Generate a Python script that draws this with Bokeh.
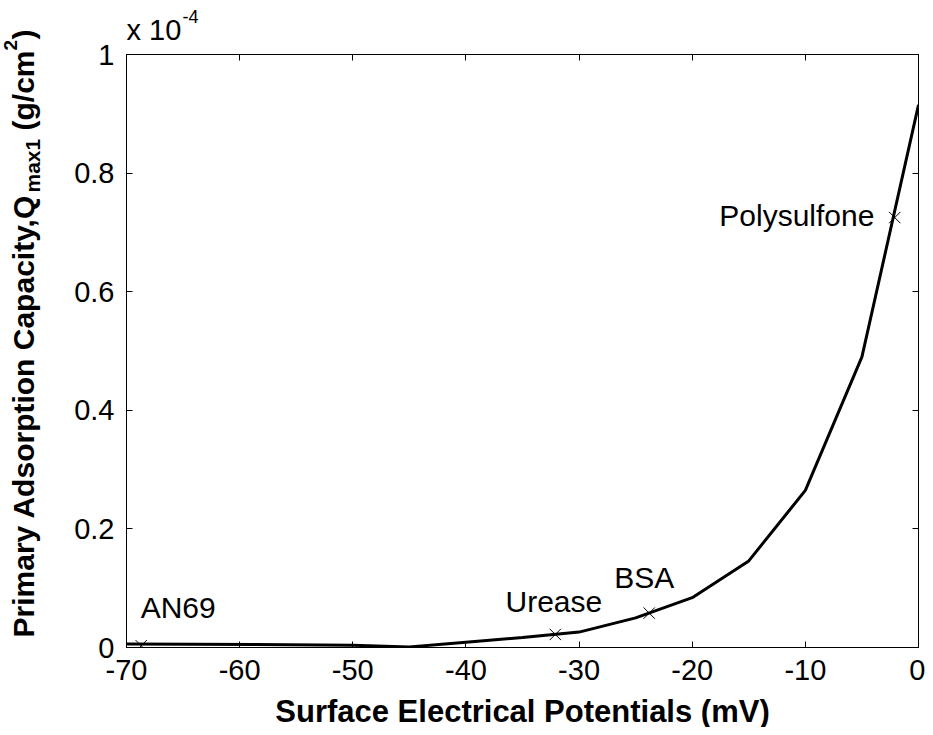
from bokeh.plotting import figure
from bokeh.models import Range1d, FixedTicker, LinearAxis, Label
from bokeh.layouts import row, column
from bokeh.core.properties import value
from bokeh.embed import file_html
from bokeh.resources import INLINE
import math

# Data (y in units of 1e-4 g/cm^2)
potential_mV = [-70, -50, -45, -40, -35, -30, -25, -20, -15, -10, -5, 0]
q_max1 = [0.006, 0.004, 0.001, 0.009, 0.017, 0.026, 0.050, 0.084, 0.146, 0.265, 0.49, 0.915]

materials = ["AN69", "Urease", "BSA", "Polysulfone"]
mat_potential = [-68.7, -32.1, -23.8, -2.1]
mat_q = [0.003, 0.022, 0.058, 0.725]

x_ticks = [-70, -60, -50, -40, -30, -20, -10, 0]
x_tick_labels = ["-70", "-60", "-50", "-40", "-30", "-20", "-10", "0"]
y_ticks = [0, 0.2, 0.4, 0.6, 0.8, 1]
y_tick_labels = ["0", "0.2", "0.4", "0.6", "0.8", "1"]

x_title = "Surface Electrical Potentials (mV)"
y_title_parts = ["Primary Adsorption Capacity,Q", "max1", "(g/cm", "2", ")"]
exponent_parts = ["x 10", "-4"]

FONT = "Liberation Sans"
TICK_SIZE = "29px"

LEFT_W = 58
TOP_H = 42
BOTTOM_H = 35
TOTAL_W = 925
TOTAL_H = 727
MAIN_W = TOTAL_W - LEFT_W
MAIN_H = TOTAL_H - TOP_H - BOTTOM_H
B_LEFT, B_RIGHT = 68, 7


def strip(width, height, xr, yr, bl=0, br=0):
    f = figure(width=width, height=height, output_backend="svg", toolbar_location=None,
               title=None, x_range=xr, y_range=yr,
               x_axis_location=None, y_axis_location=None,
               min_border_left=bl, min_border_right=br, min_border_top=0, min_border_bottom=0,
               background_fill_color="white", border_fill_color="white")
    f.grid.visible = False
    f.outline_line_color = None
    return f


# ---------------- main plot ----------------
p = figure(width=MAIN_W, height=MAIN_H, output_backend="svg", toolbar_location=None,
           x_range=Range1d(-70, 0), y_range=Range1d(0, 1),
           min_border_left=B_LEFT, min_border_right=B_RIGHT, min_border_top=12, min_border_bottom=45,
           background_fill_color="white", border_fill_color="white")
p.grid.visible = False
p.outline_line_color = "black"
p.outline_line_width = 1

for ax in (p.xaxis[0], p.yaxis[0]):
    ax.major_tick_in = 6
    ax.major_tick_out = 0
    ax.minor_tick_line_color = None
    ax.axis_line_color = "black"
    ax.major_tick_line_color = "black"
    ax.major_label_text_font = FONT
    ax.major_label_text_font_size = TICK_SIZE
    ax.major_label_text_color = "black"
    ax.major_label_standoff = 12

p.xaxis[0].ticker = FixedTicker(ticks=x_ticks)
p.xaxis[0].major_label_overrides = {t: s for t, s in zip(x_ticks, x_tick_labels)}
p.yaxis[0].ticker = FixedTicker(ticks=y_ticks)
p.yaxis[0].major_label_overrides = {t: s for t, s in zip(y_ticks, y_tick_labels)}

for loc, ticks in (("above", x_ticks), ("right", y_ticks)):
    ax = LinearAxis(ticker=FixedTicker(ticks=ticks), major_tick_in=6, major_tick_out=0,
                    minor_tick_line_color=None, major_label_text_font_size="1px",
                    major_label_overrides={t: "" for t in ticks},
                    major_label_standoff=0, axis_line_color="black")
    p.add_layout(ax, loc)

p.line(potential_mV, q_max1, line_color="black", line_width=3)
p.scatter(mat_potential, mat_q, marker="x", size=16, line_color="black", line_width=1)

lab_x = [-68.75, -36.5, -26.9, -3.9]
lab_y = [0.067, 0.078, 0.118, 0.728]
lab_align = ["left", "left", "left", "right"]
for t, x, y, a in zip(materials, lab_x, lab_y, lab_align):
    p.add_layout(Label(x=x, y=y, text=t, text_font=FONT, text_font_size="30px",
                       text_align=a, text_baseline="alphabetic", text_color="black"))

# ---------------- top strip: exponent (x in data units of main plot) ----------------
top = strip(MAIN_W, TOP_H, Range1d(-70, 0), Range1d(0, TOP_H), B_LEFT, B_RIGHT)
top.add_layout(Label(x=-70.0, y=13, text=exponent_parts[0], text_font=FONT, text_font_size="29px",
                     text_baseline="alphabetic", text_align="left", text_color="black"))
top.add_layout(Label(x=-65.05, y=26, text=exponent_parts[1], text_font=FONT, text_font_size="18px",
                     text_baseline="alphabetic", text_align="left", text_color="black"))

# ---------------- bottom strip: x axis title ----------------
bottom = strip(MAIN_W, BOTTOM_H, Range1d(-70, 0), Range1d(0, BOTTOM_H), B_LEFT, B_RIGHT)
bottom.add_layout(Label(x=-35, y=16, text=x_title, text_font=FONT, text_font_size="31px",
                        text_font_style="bold", text_baseline="alphabetic", text_align="center",
                        text_color="black"))

# ---------------- left strip: rotated y axis title ----------------
left = strip(LEFT_W, TOTAL_H, Range1d(0, LEFT_W), Range1d(0, TOTAL_H))
sizes = [30, 21, 30, 19, 30]
shifts = [0, 9, 0, -13, 0]
advance = [445, 54 + 8, 80, 11, 10]
base_x = 23
pos = 735 - 645
for text, size, shift, adv in zip(y_title_parts, sizes, shifts, advance):
    left.text(x=[base_x + shift], y=[pos], text=[text], angle=math.pi / 2,
              text_font=value(FONT), text_font_size=f"{size}px", text_font_style="bold",
              text_align="left", text_baseline="alphabetic", text_color="black")
    pos += adv

layout = row(left, column(top, p, bottom))
open("out.html", "w").write(file_html(layout, INLINE))
